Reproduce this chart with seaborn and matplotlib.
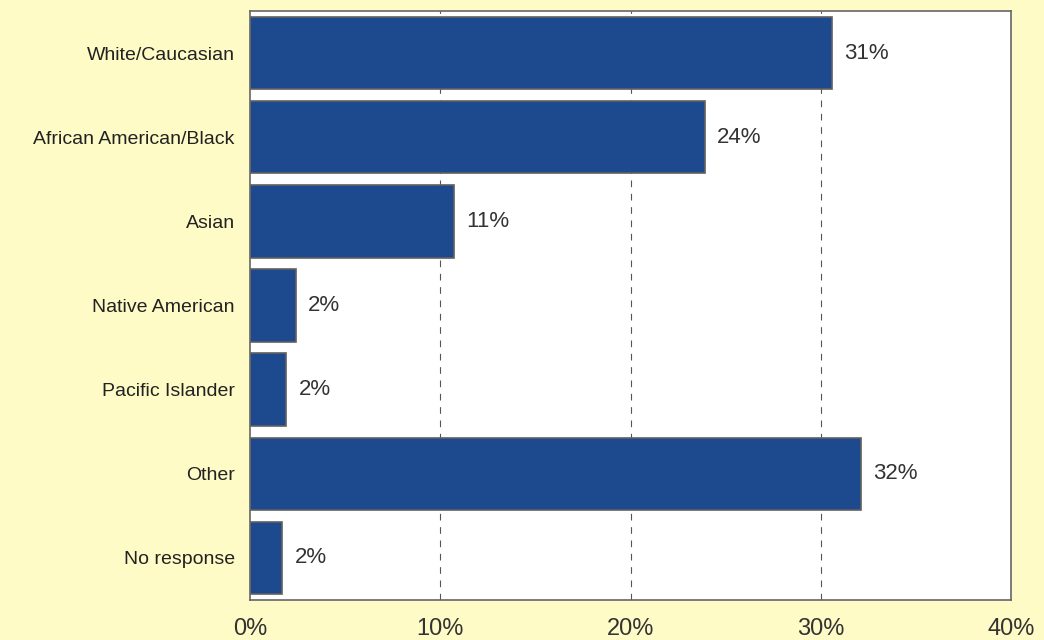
import matplotlib
matplotlib.use("Agg")
import matplotlib.pyplot as plt
import seaborn as sns
import pandas as pd

# Data
groups = ["White/Caucasian", "African American/Black", "Asian", "Native American",
          "Pacific Islander", "Other", "No response"]
values = [30.6, 23.9, 10.7, 2.4, 1.9, 32.1, 1.7]
labels = ["31%", "24%", "11%", "2%", "2%", "32%", "2%"]
xticks = [0, 10, 20, 30, 40]

df = pd.DataFrame({"group": groups, "pct": values})

sns.set_theme(style="white")
plt.rcParams["font.family"] = ["Liberation Sans", "DejaVu Sans"]

fig = plt.figure(figsize=(10.44, 6.4), dpi=100)
fig.patch.set_facecolor("#FEFBC6")
ax = fig.add_axes([250 / 1044, 40 / 640, 761 / 1044, 589 / 640])
ax.set_facecolor("white")

sns.barplot(data=df, x="pct", y="group", orient="h", color="#1D4A8E",
            saturation=1, width=0.86, edgecolor="#606060", linewidth=1.2, ax=ax)

# value labels next to the bars
for i, (v, lab) in enumerate(zip(values, labels)):
    ax.text(v + 0.65, i, lab, va="center", ha="left", fontsize=16, color="#333333")

ax.set_xlim(0, 40)
ax.set_ylim(6.5, -0.5)
ax.set_xticks(xticks)
ax.set_xticklabels([f"{t}%" for t in xticks], fontsize=17, color="#333333")
ax.tick_params(axis="x", length=0, pad=13)
ax.tick_params(axis="y", length=0, pad=11, labelsize=14, labelcolor="#222222")
ax.set_xlabel("")
ax.set_ylabel("")

for x in xticks[1:-1]:
    ax.axvline(x, color="#555555", linestyle=(0, (6, 6)), linewidth=0.8, zorder=0)

for s in ax.spines.values():
    s.set_visible(True)
    s.set_color("#666666")
    s.set_linewidth(1.2)

fig.savefig("out.png", dpi=100, facecolor=fig.get_facecolor())
